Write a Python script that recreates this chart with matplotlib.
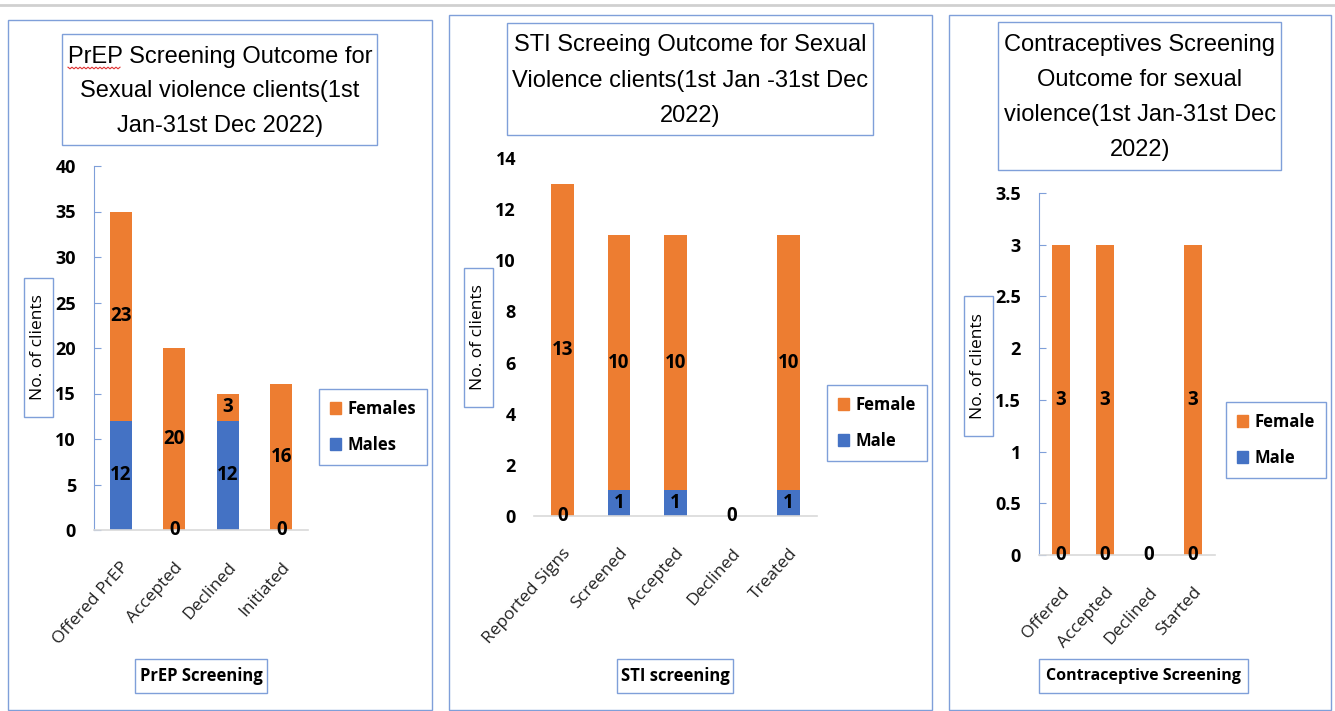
import matplotlib
matplotlib.use("Agg")
import numpy as np
import matplotlib.pyplot as plt
from matplotlib.patches import Rectangle, Patch
from matplotlib.lines import Line2D

# Dati: schermatura PrEP
prep_cats = ["Offered PrEP", "Accepted", "Declined", "Initiated"]
prep_males = [12, 0, 12, 0]
prep_females = [23, 20, 3, 16]

# Dati: schermatura IST
sti_cats = ["Reported Signs", "Screened", "Accepted", "Declined", "Treated"]
sti_male = [0, 1, 1, 0, 1]
sti_female = [13, 10, 10, 0, 10]

# Dati: schermatura contraccettivi
con_cats = ["Offered", "Accepted", "Declined", "Started"]
con_male = [0, 0, 0, 0]
con_female = [3, 3, 0, 3]

ORANGE = "#ED7D31"
BLUE = "#4472C4"
EDGE = "#7F9FD9"
W, H = 1335, 711
BODY = ["Open Sans", "DejaVu Sans"]
TITLE = ["Liberation Sans", "DejaVu Sans"]

fig = plt.figure(figsize=(W / 100, H / 100), dpi=100)


def box(x0, y0, x1, y1, color=EDGE, lw=1.0):
    fig.patches.append(Rectangle((x0 / W, 1 - y1 / H), (x1 - x0) / W, (y1 - y0) / H,
                                 transform=fig.transFigure, fill=False,
                                 edgecolor=color, linewidth=lw))


def ftext(x, y, s, **kw):
    fig.text(x / W, 1 - y / H, s, ha="center", va="center", **kw)


def make_axes(x0, y_top, x1, y_bot):
    return fig.add_axes([x0 / W, 1 - y_bot / H, (x1 - x0) / W, (y_bot - y_top) / H])


def draw_panel(ax, cats, male, female, ymax, yticks, fmt, width, show_yaxis,
               labels, legend_pos):
    x = list(range(len(cats)))
    ax.bar(x, male, width, color=BLUE, zorder=2)
    ax.bar(x, female, width, bottom=male, color=ORANGE, zorder=2)
    ax.set_xlim(-0.5, len(cats) - 0.5)
    ax.set_ylim(0, ymax)
    ax.set_yticks(yticks)
    ax.set_yticklabels([fmt(v) for v in yticks], fontsize=13, fontweight="bold",
                       family=BODY)
    ax.set_xticks(x)
    ax.set_xticklabels(cats, rotation=48, ha="right", rotation_mode="anchor",
                       fontsize=12.5, family=BODY, color="#222222")
    ax.tick_params(axis="x", length=0, pad=21)
    for s in ["top", "right"]:
        ax.spines[s].set_visible(False)
    ax.spines["bottom"].set_color("#D9D9D9")
    ax.spines["bottom"].set_linewidth(1.2)
    if show_yaxis:
        ax.spines["left"].set_color(EDGE)
        ax.tick_params(axis="y", direction="in", length=5, color=EDGE, pad=13)
    else:
        ax.spines["left"].set_visible(False)
        ax.tick_params(axis="y", length=0, pad=13)
    # etichette dei valori
    for i in x:
        if labels[i][0]:
            ax.text(i, male[i] / 2, str(male[i]), ha="center", va="center",
                    fontsize=13.5, fontweight="bold", family=BODY, zorder=3)
        if labels[i][1]:
            ax.text(i, male[i] + female[i] / 2, str(female[i]), ha="center",
                    va="center", fontsize=13.5, fontweight="bold", family=BODY, zorder=3)
    handles = [Patch(color=ORANGE, label=legend_pos[2]), Patch(color=BLUE, label=legend_pos[3])]
    leg = fig.legend(handles=handles, loc="center", bbox_to_anchor=(legend_pos[0] / W, 1 - legend_pos[1] / H),
                     prop={"family": BODY, "weight": "bold", "size": 12},
                     handlelength=0.7, handleheight=0.7, handletextpad=0.4,
                     labelspacing=1.1, borderpad=0.65, borderaxespad=0,
                     fancybox=False, framealpha=1)
    leg.get_frame().set_edgecolor(EDGE)
    leg.get_frame().set_linewidth(1.0)


# linea grigia in alto
fig.lines.append(Line2D([0, 1], [1 - 4.5 / H, 1 - 4.5 / H], transform=fig.transFigure,
                        color="#D0D0D0", linewidth=2))

# riquadri esterni
box(8, 20, 432, 710)
box(449, 15, 932, 710)
box(949, 15, 1331, 710)

# ---- Pannello 1: PrEP ----
ax1 = make_axes(94, 166, 308, 530)
draw_panel(ax1, prep_cats, prep_males, prep_females, 40, list(range(0, 41, 5)),
           lambda v: f"{v}", 0.42, True,
           [(True, True), (True, True), (True, True), (True, True)],
           (373, 427, "Females", "Males"))
box(62, 34, 377, 145)
for k, line in enumerate(["PrEP Screening Outcome for", "Sexual violence clients(1st",
                          "Jan-31st Dec 2022)"]):
    ftext(220, 57 + 34.5 * k, line, fontsize=17, family=TITLE)
# sottolineatura ondulata del correttore ortografico
zx = np.arange(68, 122, 2.0)
zy = 68 + np.where(np.arange(len(zx)) % 2 == 0, -0.8, 0.8)
fig.lines.append(Line2D(zx / W, 1 - zy / H, transform=fig.transFigure,
                        color="#E03030", linewidth=0.8))
box(24, 278, 53, 417)
ftext(38.5, 347, "No. of clients", fontsize=12.5, family=BODY, rotation=90)
box(135, 659, 267, 693)
ftext(201, 676, "PrEP Screening", fontsize=12, fontweight="bold", family=BODY)

# ---- Pannello 2: IST ----
ax2 = make_axes(534, 158, 817, 516)
draw_panel(ax2, sti_cats, sti_male, sti_female, 14, list(range(0, 15, 2)),
           lambda v: f"{v}", 0.4, False,
           [(True, True), (True, True), (True, True), (True, False), (True, True)],
           (877, 423, "Female", "Male"))
box(507, 23, 873, 135)
for k, line in enumerate(["STI Screeing Outcome for Sexual",
                          "Violence clients(1st Jan -31st Dec", "2022)"]):
    ftext(690, 45 + 35.5 * k, line, fontsize=17, family=TITLE)
box(464, 268, 493, 407)
ftext(478.5, 337, "No. of clients", fontsize=12.5, family=BODY, rotation=90)
box(617, 659, 733, 693)
ftext(675, 676, "STI screening", fontsize=12, fontweight="bold", family=BODY)

# ---- Pannello 3: contraccettivi ----
ax3 = make_axes(1039, 193, 1215, 555)
draw_panel(ax3, con_cats, con_male, con_female, 3.5, [0, 0.5, 1, 1.5, 2, 2.5, 3, 3.5],
           lambda v: f"{v:g}", 0.41, True,
           [(True, True), (True, True), (True, False), (True, True)],
           (1276, 440, "Female", "Male"))
box(998, 22, 1281, 170)
for k, line in enumerate(["Contraceptives Screening", "Outcome for sexual",
                          "violence(1st Jan-31st Dec", "2022)"]):
    ftext(1140, 45 + 35 * k, line, fontsize=17, family=TITLE)
box(964, 296, 993, 436)
ftext(978.5, 366, "No. of clients", fontsize=12.5, family=BODY, rotation=90)
box(1039, 659, 1248, 693)
ftext(1143.5, 676, "Contraceptive Screening", fontsize=11.5, fontweight="bold", family=BODY)

fig.savefig("out.png", dpi=100)
